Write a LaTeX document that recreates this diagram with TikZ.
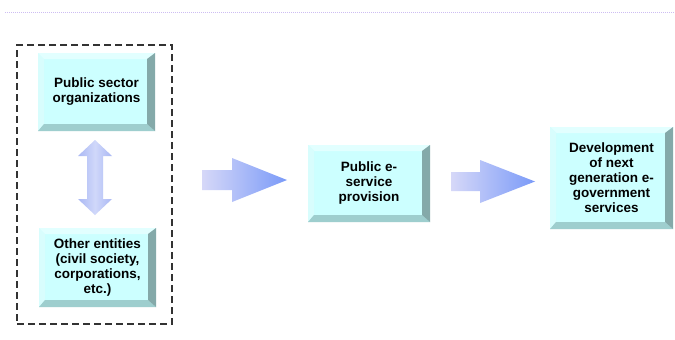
\documentclass[tikz,border=0pt]{standalone}
\usepackage{fontspec}
\setmainfont{Liberation Sans}
\usetikzlibrary{calc}
\definecolor{face}{HTML}{CCFFFF}
\definecolor{bevtop}{HTML}{E2FFFF}
\definecolor{bevleft}{HTML}{D8FDFD}
\definecolor{bevright}{HTML}{84A9A9}
\definecolor{bevbottom}{HTML}{9ECECE}
\definecolor{arrowpale}{HTML}{D6D8F8}
\definecolor{arrowblue}{HTML}{7A9AF8}
\definecolor{arrowside}{HTML}{AAB8F4}
\definecolor{arrowmid}{HTML}{D0D8FA}
\definecolor{topline}{HTML}{CDBDF2}
\definecolor{dashcol}{HTML}{333333}
\tikzset{
  bevbox/.style={draw=none, fill=face, align=center, inner sep=0pt,
    font=\bfseries\fontsize{13.5}{15}\selectfont,
    path picture={
      \coordinate (ppne) at (path picture bounding box.north east);
      \coordinate (ppse) at (path picture bounding box.south east);
      \coordinate (ppsw) at (path picture bounding box.south west);
      \coordinate (ppnw) at (path picture bounding box.north west);
      \fill[bevtop] (ppnw) -- (ppne) -- ([shift={(-7pt,-6pt)}]ppne) -- ([shift={(6pt,-6pt)}]ppnw) -- cycle;
      \fill[bevleft] (ppnw) -- (ppsw) -- ([shift={(6pt,7pt)}]ppsw) -- ([shift={(6pt,-6pt)}]ppnw) -- cycle;
      \fill[bevbottom] (ppsw) -- (ppse) -- ([shift={(-8pt,7pt)}]ppse) -- ([shift={(6pt,7pt)}]ppsw) -- cycle;
      \fill[bevright] (ppne) -- (ppse) -- ([shift={(-8pt,7pt)}]ppse) -- ([shift={(-8pt,-6pt)}]ppne) -- cycle;
    }},
  flowarrow/.style={left color=arrowpale, right color=arrowblue},
  linkarrow/.style={left color=arrowside, right color=arrowside, middle color=arrowmid},
  groupbox/.style={draw=dashcol, line width=1.3pt, dash pattern=on 7pt off 4pt, fill=none, inner sep=0pt}
}
\begin{document}
\begin{tikzpicture}[x=1pt,y=-1pt]
\useasboundingbox (0,0) rectangle (675,340);
\fill[white] (0,0) rectangle (675,340);
\draw[topline, line width=0.8pt, dash pattern=on 1pt off 1pt] (5,12) -- (675,12);

\node[groupbox, minimum width=155pt, minimum height=279pt] (grp) at (94.5,184.5) {};

\node[bevbox, minimum width=117pt, minimum height=78pt] (pso) at (96.5,92) {Public sector\\organizations};
\node[bevbox, minimum width=117pt, minimum height=79pt] (oth) at (97.5,267.5) {Other entities\\(civil society,\\corporations,\\etc.)};
\node[bevbox, minimum width=122pt, minimum height=77pt] (pes) at (369,183.5) {Public e-\\service\\provision};
\node[bevbox, minimum width=123pt, minimum height=102pt] (dev) at (611.5,178) {Development\\of next\\generation e-\\government\\services};

\shade[linkarrow] (95,140) -- (112,156) -- (103,156) -- (103,199) -- (112,199) -- (95,215) -- (78,199) -- (87,199) -- (87,156) -- (78,156) -- cycle;

\shade[flowarrow] (202,170) -- (232,170) -- (232,158) -- (287,180) -- (232,202) -- (232,190) -- (202,190) -- cycle;
\shade[flowarrow] (451,172) -- (480,172) -- (480,160) -- (535,181.5) -- (480,203) -- (480,191) -- (451,191) -- cycle;
\end{tikzpicture}
\end{document}
